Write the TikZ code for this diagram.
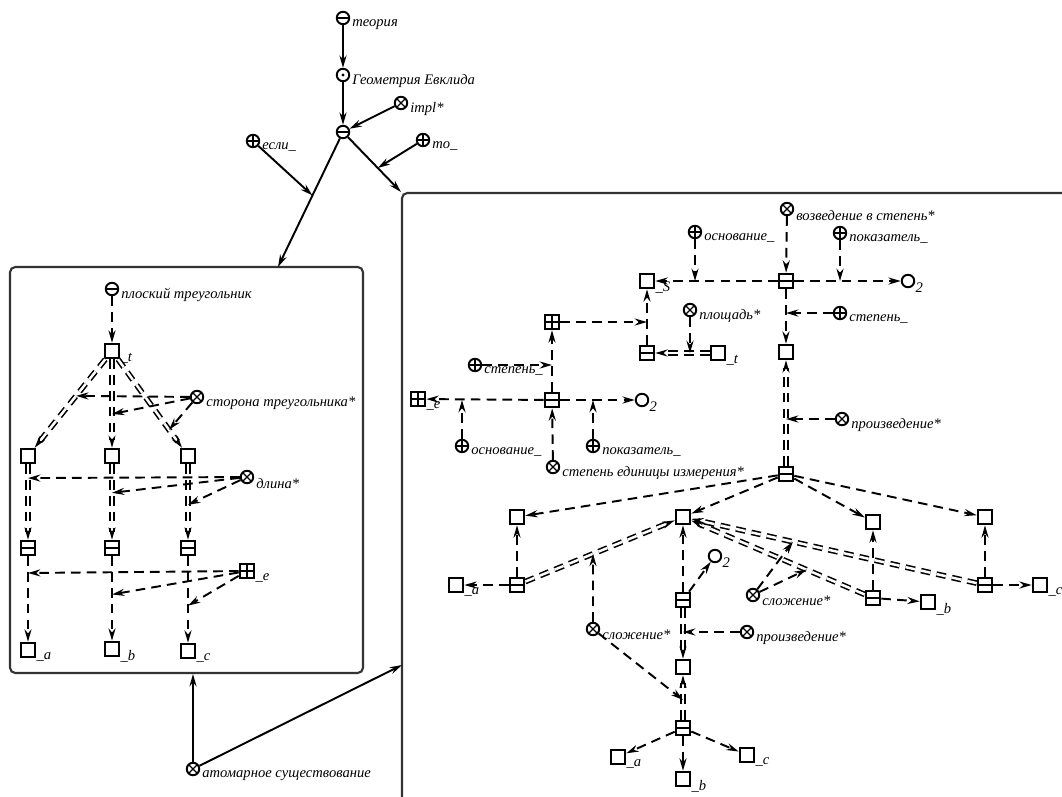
\documentclass[tikz,border=0pt]{standalone}
\usepackage{fontspec}
\setmainfont{Liberation Serif}
\usetikzlibrary{
	arrows.meta,
	calc,
	fit
}

\begin{document}
\begin{tikzpicture}[
    x=0.02cm, y=-0.02cm,
    lab/.style={font=\fontsize{8.3}{9}\selectfont\itshape, inner sep=1pt},
    lbl/.style={label={[lab, anchor=west, yshift=-3.5pt]east:#1}},
    sub/.style={label={[lab, anchor=west, yshift=-4pt, xshift=-1pt]east:#1}},
    sym/.style={circle, draw, line width=1.1pt, minimum size=2.5mm, inner sep=0pt},
    ctuple/.style={sym, path picture={\draw[line width=0.8pt] (path picture bounding box.west) -- (path picture bounding box.east);}},
    crole/.style={sym, path picture={\draw[line width=0.8pt] (path picture bounding box.west) -- (path picture bounding box.east) (path picture bounding box.north) -- (path picture bounding box.south);}},
    crel/.style={sym, path picture={\draw[line width=0.7pt] (path picture bounding box.north west) -- (path picture bounding box.south east) (path picture bounding box.north east) -- (path picture bounding box.south west);}},
    cconst/.style={sym, path picture={\fill (path picture bounding box.center) circle (0.9pt);}},
    cnum/.style={sym},
    vnode/.style={rectangle, draw, line width=1.2pt, minimum size=2.9mm, inner sep=0pt},
    vtuple/.style={vnode, path picture={\draw[line width=0.8pt] (path picture bounding box.west) -- (path picture bounding box.east);}},
    vset/.style={vnode, path picture={\draw[line width=0.8pt] (path picture bounding box.west) -- (path picture bounding box.east) (path picture bounding box.north) -- (path picture bounding box.south);}},
    frame/.style={draw=black!80, line width=1.2pt, rounded corners=3pt, inner sep=0pt},
    arc/.style={-{Stealth[length=7pt, width=4pt]}, line width=1.1pt},
    varc/.style={arc, dash pattern=on 5.5pt off 3.5pt},
    dvarc/.style={varc, double, line width=0.9pt, double distance=1.4pt}
]
\useasboundingbox (0,0) rectangle (1062,796);

\node[frame, fit={(10,267) (363,673)}] (lframe) {};
\node[frame, fit={(402,193) (1120,840)}] (rframe) {};
\coordinate (lin) at (278,267);
\coordinate (rin) at (402,665);

\node[ctuple, lbl=теория] (teor) at (343,18) {};
\node[cconst, lbl=Геометрия Евклида] (geom) at (343,75) {};
\node[ctuple] (imp) at (343,132) {};
\node[crel, lbl=impl*] (implrel) at (401,103) {};
\node[crole, lbl=то\_] (thenrole) at (423,140) {};
\node[crole, lbl=если\_] (ifrole) at (253,141) {};

\node[ctuple, lbl=плоский треугольник] (ptri) at (112,289) {};
\node[vnode, sub=\_t] (tri) at (112,351) {};
\node[vnode] (sa) at (28,456) {};
\node[vnode] (sb) at (112,456) {};
\node[vnode] (sc) at (188,456) {};
\node[crel, lbl=сторона треугольника*] (side) at (197,397) {};
\node[vtuple] (ta) at (28,548) {};
\node[vtuple] (tb) at (112,548) {};
\node[vtuple] (tc) at (188,548) {};
\node[crel, lbl=длина*] (len) at (247,477) {};
\node[vset, sub=\_e] (unit) at (247,571) {};
\node[vnode, sub=\_a] (va) at (28,650) {};
\node[vnode, sub=\_b] (vb) at (112,649) {};
\node[vnode, sub=\_c] (vc) at (188,651) {};
\node[crel, lbl=атомарное существование] (atom) at (193,769) {};

\node[crel, lbl=возведение в степень*] (pow) at (787,209) {};
\node[crole, lbl=основание\_] (base) at (695,232) {};
\node[crole, lbl=показатель\_] (expo) at (840,233) {};
\node[vtuple] (tpow) at (786,281) {};
\node[vnode, sub=\_S] (area) at (647,281) {};
\node[cnum, sub=2] (two) at (908,281) {};
\node[crole, lbl=степень\_] (deg) at (840,313) {};
\node[vnode] (sq) at (786,352) {};
\node[crel, lbl=произведение*] (prod) at (842,419) {};
\node[vtuple] (tprod) at (786,474) {};

\node[vset] (unitsq) at (552,322) {};
\node[vtuple] (tarea) at (647,353) {};
\node[vnode, sub=\_t] (tri2) at (718,353) {};
\node[crel, lbl=площадь*] (arearel) at (690,310) {};
\node[crole, lbl=степень\_] (deg2) at (475,365) {};
\node[vtuple] (tunit) at (552,400) {};
\node[vset, sub=\_e] (unit2) at (418,399) {};
\node[cnum, sub=2] (two2) at (642,400) {};
\node[crole, lbl=основание\_] (base2) at (462,446) {};
\node[crole, lbl=показатель\_] (expo2) at (593,446) {};
\node[crel, lbl=степень единицы измерения*] (unitdeg) at (553,467) {};

\node[vnode] (pa) at (517,517) {};
\node[vnode] (p) at (683,517) {};
\node[vnode] (pb) at (873,522) {};
\node[vnode] (pc) at (985,517) {};
\node[vtuple] (suma) at (517,585) {};
\node[vnode, sub=\_a] (a2) at (456,585) {};
\node[vtuple] (sumb) at (873,598) {};
\node[vnode, sub=\_b] (b2) at (928,602) {};
\node[vtuple] (sumc) at (985,585) {};
\node[vnode, sub=\_c] (c2) at (1040,585) {};
\node[vtuple] (tp2) at (683,600) {};
\node[cnum, sub=2] (two3) at (715,556) {};
\node[crel, lbl=сложение*] (add1) at (753,595) {};
\node[crel, lbl=сложение*] (add2) at (593,629) {};
\node[crel, lbl=произведение*] (prod2) at (747,632) {};
\node[vnode] (per) at (683,667) {};
\node[vtuple] (tabc) at (683,728) {};
\node[vnode, sub=\_a] (a3) at (618,757) {};
\node[vnode, sub=\_b] (b3) at (683,779) {};
\node[vnode, sub=\_c] (c3) at (747,755) {};

\coordinate (ifpt) at ($(imp)!0.47!(lin)$);
\coordinate (thenpt) at ($(imp)!0.6!(rframe.north west)$);
\coordinate (side1) at ($(tri)!0.427!(sa)$);
\coordinate (side2) at ($(tri)!0.6!(sb)$);
\coordinate (side3) at ($(tri)!0.75!(sc)$);
\coordinate (len1) at ($(sa)!0.24!(ta)$);
\coordinate (len2) at ($(sb)!0.4!(tb)$);
\coordinate (len3) at ($(sc)!0.53!(tc)$);
\coordinate (unit1) at ($(ta)!0.245!(va)$);
\coordinate (unit2pt) at ($(tb)!0.46!(vb)$);
\coordinate (unit3) at ($(tc)!0.56!(vc)$);
\coordinate (adda) at ($(suma)!0.458!(p)$);
\coordinate (addabc) at ($(tabc)!0.46!(per)$);
\coordinate (addc) at ($(sumc)!0.636!(p)$);
\coordinate (addb) at ($(sumb)!0.35!(p)$);

\draw[arc] (teor) -- (geom);
\draw[arc] (geom) -- (imp);
\draw[arc] (implrel) -- (imp);
\draw[arc] (imp) -- (lin);
\draw[arc] (imp) -- (rframe.north west);
\draw[arc] (ifrole) -- (ifpt);
\draw[arc] (thenrole) -- (thenpt);
\draw[arc] (atom) -- (atom |- lframe.south);
\draw[arc] (atom) -- (rin);

\draw[varc] (ptri) -- (tri);
\draw[dvarc] (tri) -- (sa);
\draw[dvarc] (tri) -- (sb);
\draw[dvarc] (tri) -- (sc);
\draw[varc] (side) -- (side1);
\draw[varc] (side) -- (side2);
\draw[varc] (side) -- (side3);
\draw[dvarc] (sa) -- (ta);
\draw[dvarc] (sb) -- (tb);
\draw[dvarc] (sc) -- (tc);
\draw[varc] (len) -- (len1);
\draw[varc] (len) -- (len2);
\draw[varc] (len) -- (len3);
\draw[varc] (ta) -- (va);
\draw[varc] (tb) -- (vb);
\draw[varc] (tc) -- (vc);
\draw[varc] (unit) -- (unit1);
\draw[varc] (unit) -- (unit2pt);
\draw[varc] (unit) -- (unit3);

\draw[varc] (pow) -- (tpow);
\draw[varc] (tpow) -- (area);
\draw[varc] (base) -- (base |- tpow);
\draw[varc] (tpow) -- (two);
\draw[varc] (expo) -- (expo |- tpow);
\draw[varc] (tpow) -- (sq);
\draw[varc] (deg) -- (deg -| tpow);
\draw[dvarc] (tprod) -- (sq);
\draw[varc] (prod) -- (prod -| tprod);
\draw[varc] (tarea) -- (area);
\draw[varc] (unitsq) -- (unitsq -| area);
\draw[dvarc] (tri2) -- (tarea);
\draw[varc] (arearel) -- (arearel |- tarea);
\draw[varc] (tunit) -- (unitsq);
\draw[varc] (deg2) -- (deg2 -| tunit);
\draw[varc] (tunit) -- (unit2);
\draw[varc] (base2) -- (base2 |- tunit);
\draw[varc] (tunit) -- (two2);
\draw[varc] (expo2) -- (expo2 |- tunit);
\draw[varc] (unitdeg) -- (tunit);

\draw[varc] (tprod) -- (pa);
\draw[varc] (tprod) -- (p);
\draw[varc] (tprod) -- (pb);
\draw[varc] (tprod) -- (pc);
\draw[varc] (suma) -- (pa);
\draw[varc] (suma) -- (a2);
\draw[dvarc] (suma) -- (p);
\draw[varc] (sumb) -- (pb);
\draw[varc] (sumb) -- (b2);
\draw[dvarc] (sumb) -- (p);
\draw[varc] (sumc) -- (pc);
\draw[varc] (sumc) -- (c2);
\draw[dvarc] (sumc) -- (p);
\draw[varc] (tp2) -- (p);
\draw[varc] (tp2) -- (two3);
\draw[dvarc] (tp2) -- (per);
\draw[varc] (prod2) -- (prod2 -| tp2);
\draw[dvarc] (tabc) -- (per);
\draw[varc] (tabc) -- (a3);
\draw[varc] (tabc) -- (b3);
\draw[varc] (tabc) -- (c3);
\draw[varc] (add2) -- (adda);
\draw[varc] (add2) -- (addabc);
\draw[varc] (add1) -- (addc);
\draw[varc] (add1) -- (addb);
\end{tikzpicture}
\end{document}
